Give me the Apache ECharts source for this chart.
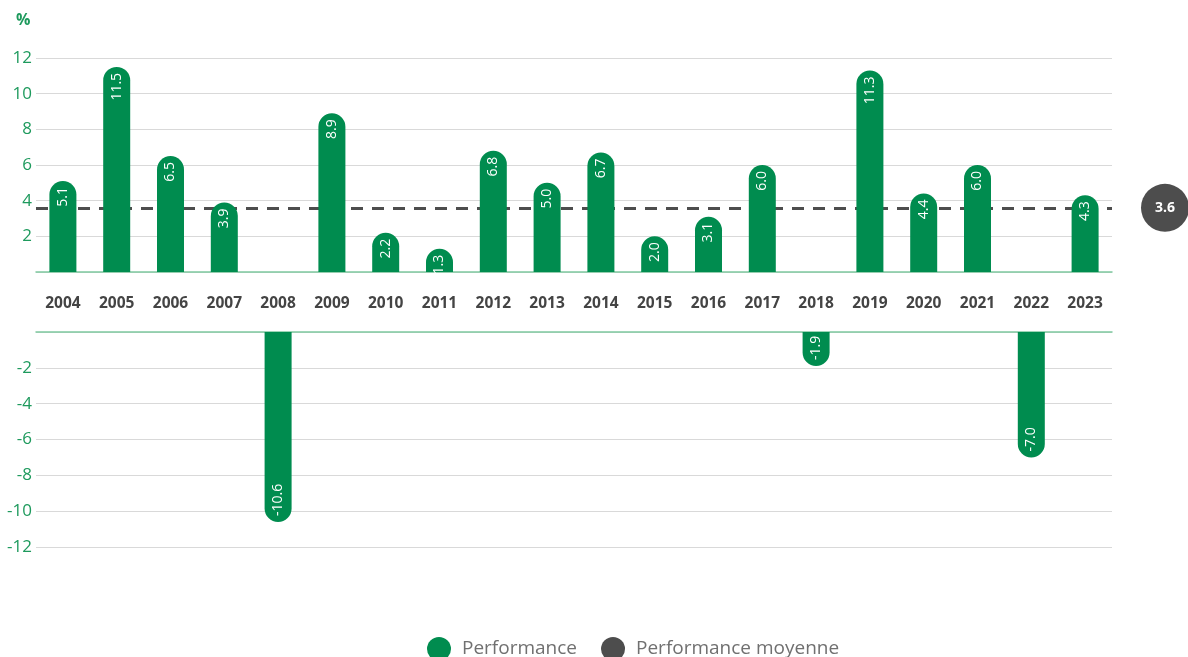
<!DOCTYPE html>
<html lang="fr">
<head>
    <meta charset="UTF-8">
    <title>Performance</title>
    <script src="https://cdn.jsdelivr.net/npm/echarts@6/dist/echarts.min.js"></script>
    <style>
        html, body { margin: 0; padding: 0; background: #fff; }
        #chart { width: 1188px; height: 657px; }
    </style>
</head>
<body>
    <div id="chart"></div>
    <script>
        const years = ['2004', '2005', '2006', '2007', '2008', '2009', '2010', '2011', '2012', '2013',
            '2014', '2015', '2016', '2017', '2018', '2019', '2020', '2021', '2022', '2023'];
        const performance = [5.1, 11.5, 6.5, 3.9, -10.6, 8.9, 2.2, 1.3, 6.8, 5.0,
            6.7, 2.0, 3.1, 6.0, -1.9, 11.3, 4.4, 6.0, -7.0, 4.3];
        const averagePerformance = 3.6;

        const green = '#008c4f';
        const darkGrey = '#4d4d4d';
        const font = 'Open Sans';

        // split in two parts: positive values on the top grid, negative on the bottom one
        const positive = performance.map(v => v > 0 ? v : '-');
        const negative = performance.map(v => v < 0 ? v : '-');

        const chart = echarts.init(document.getElementById('chart'));

        const yLabel = {
            color: '#1e9a5d', fontSize: 17, fontFamily: font, margin: 4,
            formatter: v => v === 0 ? '' : v
        };
        const splitLine = { lineStyle: { color: '#d9d9d9', width: 1 } };
        const barLabel = {
            show: true, rotate: 90, verticalAlign: 'middle', distance: 6,
            color: '#fff', fontSize: 14, fontFamily: font,
            formatter: p => p.value.toFixed(1)
        };

        chart.setOption({
            animation: false,
            title: {
                text: '%', left: 11, top: 7,
                textStyle: { color: '#1e9a5d', fontSize: 16, fontWeight: 'bold', fontFamily: font }
            },
            legend: {
                left: 422, top: 632,
                icon: 'circle', itemWidth: 24, itemHeight: 24, itemGap: 24,
                textStyle: { color: '#707070', fontSize: 19, fontFamily: font, padding: [0, 0, 0, 6] },
                data: [
                    { name: 'Performance', itemStyle: { color: green } },
                    { name: 'Performance moyenne', itemStyle: { color: darkGrey } }
                ]
            },
            grid: [
                { left: 36, right: 76, top: 58, height: 214 },
                { left: 36, right: 76, top: 332, height: 215 }
            ],
            xAxis: [
                {
                    gridIndex: 0, type: 'category', data: years,
                    axisLine: { lineStyle: { color: '#7fc9a0', width: 1.5 } },
                    axisTick: { show: false },
                    axisLabel: { color: '#444', fontSize: 15.5, fontWeight: 'bold', fontFamily: font, margin: 24 }
                },
                {
                    gridIndex: 1, type: 'category', data: years, position: 'top',
                    axisLine: { lineStyle: { color: '#7fc9a0', width: 1.5 } },
                    axisTick: { show: false },
                    axisLabel: { show: false }
                }
            ],
            yAxis: [
                {
                    gridIndex: 0, type: 'value', min: 0, max: 12, interval: 2,
                    axisLine: { show: false }, axisTick: { show: false },
                    axisLabel: yLabel, splitLine: splitLine
                },
                {
                    gridIndex: 1, type: 'value', min: -12, max: 0, interval: 2,
                    axisLine: { show: false }, axisTick: { show: false },
                    axisLabel: yLabel, splitLine: splitLine
                }
            ],
            series: [
                {
                    name: 'Performance moyenne', type: 'line',
                    xAxisIndex: 0, yAxisIndex: 0,
                    data: [],
                    itemStyle: { color: darkGrey },
                    markLine: {
                        silent: true, symbol: 'none', z: 1,
                        lineStyle: { color: darkGrey, width: 3, type: [12, 9] },
                        label: {
                            position: 'end', distance: 53,
                            formatter: averagePerformance.toFixed(1),
                            backgroundColor: darkGrey, color: '#fff',
                            fontSize: 14, fontWeight: 'bold', fontFamily: font,
                            width: 48, height: 48, lineHeight: 48, align: 'center',
                            borderRadius: 24
                        },
                        data: [{ yAxis: averagePerformance }]
                    },
                    z: 1
                },
                {
                    name: 'Performance', type: 'bar',
                    xAxisIndex: 0, yAxisIndex: 0,
                    data: positive, barWidth: 27,
                    itemStyle: { color: green, borderRadius: [13.5, 13.5, 0, 0] },
                    label: Object.assign({}, barLabel, { position: 'insideTop', align: 'right' }),
                    z: 3
                },
                {
                    name: 'Performance', type: 'bar',
                    xAxisIndex: 1, yAxisIndex: 1,
                    data: negative, barWidth: 27,
                    itemStyle: { color: green, borderRadius: [0, 0, 13.5, 13.5] },
                    label: Object.assign({}, barLabel, { position: 'insideBottom', align: 'left' }),
                    z: 3
                }
            ]
        });
    </script>
</body>
</html>
